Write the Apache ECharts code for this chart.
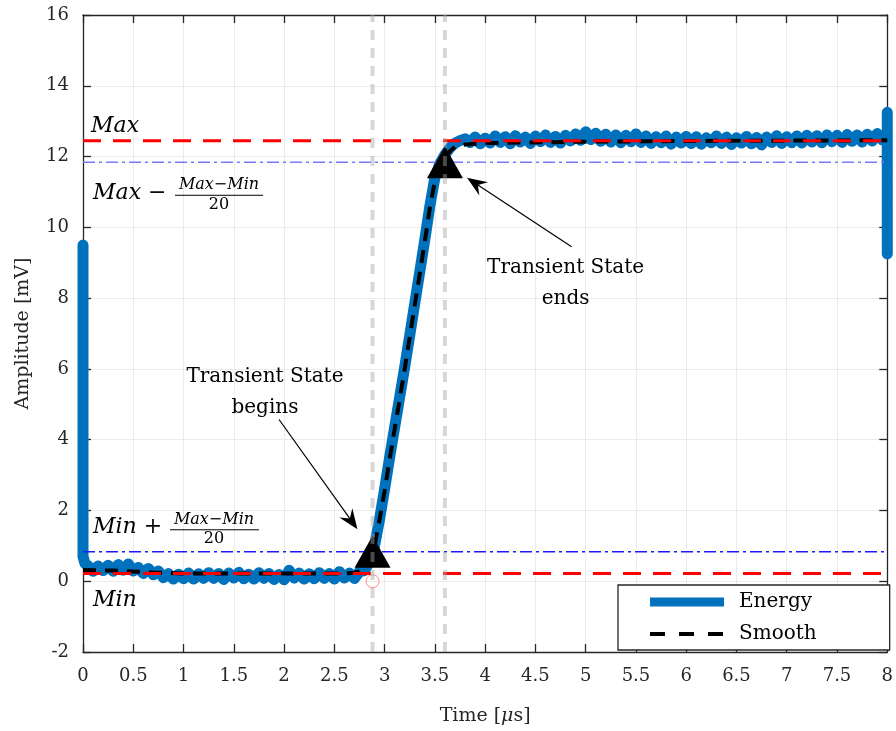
<!DOCTYPE html>
<html>
<head>
<meta charset="utf-8">
<script src="https://cdn.jsdelivr.net/npm/echarts@6/dist/echarts.min.js"></script>
</head>
<body style="margin:0">
<div id="container" style="width:896px;height:731px;"></div>
<script>
// measured signal [time us, amplitude mV]
var energy = [
  [0,9.5],[0,0.7],[0.02,0.5],[0.05,0.44],[0.1,0.28],[0.15,0.43],[0.2,0.3],[0.25,0.45],[0.3,0.28],[0.35,0.47],
  [0.4,0.31],[0.45,0.49],[0.5,0.29],[0.55,0.39],[0.6,0.22],[0.65,0.36],[0.7,0.18],[0.75,0.29],[0.8,0.1],[0.85,0.21],
  [0.9,0.06],[0.95,0.2],[1,0.07],[1.05,0.23],[1.1,0.06],[1.15,0.21],[1.2,0.08],[1.25,0.24],[1.3,0.08],[1.35,0.22],
  [1.4,0.05],[1.45,0.23],[1.5,0.09],[1.55,0.25],[1.6,0.07],[1.65,0.2],[1.7,0.06],[1.75,0.24],[1.8,0.08],[1.85,0.22],
  [1.9,0.05],[1.95,0.19],[2,0.04],[2.05,0.31],[2.1,0.09],[2.15,0.23],[2.2,0.06],[2.25,0.21],[2.3,0.07],[2.35,0.24],
  [2.4,0.08],[2.45,0.22],[2.5,0.06],[2.55,0.27],[2.6,0.09],[2.65,0.23],[2.7,0.08],[2.75,0.27],[2.8,0.3],[2.85,0.55],
  [2.9,1.0],[2.95,1.75],[3,2.6],[3.05,3.5],[3.1,4.35],[3.15,5.2],[3.2,6.05],[3.25,6.95],[3.3,7.85],[3.35,8.75],
  [3.4,9.65],[3.45,10.6],[3.5,11.4],[3.55,11.8],[3.6,12.05],[3.65,12.25],[3.7,12.38],[3.75,12.45],[3.8,12.5],
  [3.85,12.4],[3.9,12.55],[3.95,12.36],[4,12.52],[4.05,12.38],[4.1,12.58],[4.15,12.4],[4.2,12.56],[4.25,12.36],[4.3,12.59],
  [4.35,12.41],[4.4,12.55],[4.45,12.37],[4.5,12.58],[4.55,12.42],[4.6,12.61],[4.65,12.4],[4.7,12.57],[4.75,12.38],[4.8,12.6],
  [4.85,12.44],[4.9,12.64],[4.95,12.46],[5,12.7],[5.05,12.48],[5.1,12.66],[5.15,12.43],[5.2,12.63],[5.25,12.41],[5.3,12.61],
  [5.35,12.39],[5.4,12.6],[5.45,12.42],[5.5,12.64],[5.55,12.4],[5.6,12.58],[5.65,12.37],[5.7,12.56],[5.75,12.39],[5.8,12.58],
  [5.85,12.35],[5.9,12.55],[5.95,12.38],[6,12.57],[6.05,12.37],[6.1,12.56],[6.15,12.35],[6.2,12.53],[6.25,12.39],[6.3,12.58],
  [6.35,12.37],[6.4,12.55],[6.45,12.34],[6.5,12.53],[6.55,12.38],[6.6,12.57],[6.65,12.36],[6.7,12.54],[6.75,12.33],[6.8,12.55],
  [6.85,12.4],[6.9,12.59],[6.95,12.37],[7,12.56],[7.05,12.39],[7.1,12.58],[7.15,12.38],[7.2,12.6],[7.25,12.41],[7.3,12.59],
  [7.35,12.39],[7.4,12.61],[7.45,12.42],[7.5,12.6],[7.55,12.4],[7.6,12.62],[7.65,12.43],[7.7,12.61],[7.75,12.41],[7.8,12.63],
  [7.85,12.44],[7.9,12.65],[7.95,12.47],[8,12.55],[8,13.25],[8,9.25]
];
var smooth = [
  [0,0.32],[0.3,0.3],[0.7,0.25],[1,0.22],[2.6,0.22],[2.7,0.24],[2.75,0.28],[2.8,0.38],[2.85,0.6],[2.9,1.0],
  [2.95,1.75],[3,2.55],[3.05,3.45],[3.1,4.3],[3.15,5.15],[3.2,6.0],[3.25,6.9],[3.3,7.8],[3.35,8.7],[3.4,9.6],
  [3.45,10.55],[3.5,11.3],[3.55,11.7],[3.6,11.95],[3.65,12.15],[3.7,12.27],[3.8,12.34],[4,12.38],[5,12.42],[6,12.44],[8,12.46]
];
var maxLevel = 12.45;
var minLevel = 0.22;
var tBegin = 2.88;
var tEnd = 3.6;

var maxThr = maxLevel - (maxLevel - minLevel) / 20;
var minThr = minLevel + (maxLevel - minLevel) / 20;

var FONT = 'DejaVu Serif';
var AX = '#262626';

var chart = echarts.init(document.getElementById('container'));

function hline(y, color, width, type) {
  return {
    type: 'line', data: [[0, y], [8, y]], symbol: 'none', silent: true,
    lineStyle: { color: color, width: width, type: type }, z: 4
  };
}
function vline(x) {
  return {
    type: 'line', data: [[x, -2], [x, 16]], symbol: 'none', silent: true,
    lineStyle: { color: 'rgba(165,165,165,0.45)', width: 4, type: [10, 8] }, z: 8
  };
}

var axisCommon = {
  type: 'value',
  axisLine: { show: true, onZero: false, lineStyle: { color: AX, width: 1.3 } },
  axisTick: { show: true, inside: true, length: 8, lineStyle: { color: AX, width: 1.3 } }
};

var option = {
  animation: false,
  backgroundColor: '#fff',
  grid: { left: 83, right: 6, top: 15, bottom: 78 },
  xAxis: [
    Object.assign({}, axisCommon, {
      position: 'bottom', min: 0, max: 8, interval: 0.5,
      axisLabel: { fontFamily: FONT, fontSize: 18, color: AX, margin: 15 },
      splitLine: { show: true, lineStyle: { color: '#ebebeb', width: 1 } },
      name: 'Time [{i|μ}s]', nameLocation: 'middle', nameGap: 55,
      nameTextStyle: { fontFamily: FONT, fontSize: 19, color: AX,
        rich: { i: { fontFamily: FONT, fontStyle: 'italic', fontSize: 19, color: AX } } }
    }),
    Object.assign({}, axisCommon, {
      position: 'top', min: 0, max: 8, interval: 0.5,
      axisLabel: { show: false }, splitLine: { show: false }
    })
  ],
  yAxis: [
    Object.assign({}, axisCommon, {
      position: 'left', min: -2, max: 16, interval: 2,
      axisLabel: { fontFamily: FONT, fontSize: 18, color: AX, margin: 14 },
      splitLine: { show: true, lineStyle: { color: '#ebebeb', width: 1 } },
      name: 'Amplitude [mV]', nameLocation: 'middle', nameGap: 50,
      nameTextStyle: { fontFamily: FONT, fontSize: 19, color: AX }
    }),
    Object.assign({}, axisCommon, {
      position: 'right', min: -2, max: 16, interval: 2,
      axisLabel: { show: false }, splitLine: { show: false }
    })
  ],
  legend: {
    orient: 'vertical', left: 618, top: 585,
    padding: [7, 73, 6, 30], itemGap: 12, itemWidth: 74, itemHeight: 14,
    borderColor: AX, borderWidth: 1.3, backgroundColor: '#fff',
    textStyle: { fontFamily: FONT, fontSize: 20, color: '#000', padding: [0, 0, 0, 10] },
    data: [
      { name: 'Energy', icon: 'path://M0,0L74,0L74,9L0,9Z', itemStyle: { color: '#0072BD' } },
      { name: 'Smooth', lineStyle: { width: 4, type: [15, 14], color: '#000', cap: 'butt' },
        itemStyle: { color: 'rgba(0,0,0,0)', borderColor: 'rgba(0,0,0,0)', borderWidth: 0, opacity: 0 } }
    ]
  },
  series: [
    {
      name: 'Energy', type: 'line', data: energy, symbol: 'none', showSymbol: false, clip: false, z: 2,
      color: '#0072BD',
      lineStyle: { color: '#0072BD', width: 11, cap: 'round', join: 'round' }
    },
    {
      name: 'Smooth', type: 'line', data: smooth, symbol: 'none', showSymbol: false, z: 3,
      color: '#000',
      lineStyle: { color: '#000', width: 4, type: [13, 9] }
    },
    hline(maxLevel, '#ff0000', 3, [18, 12]),
    hline(minLevel, '#ff0000', 3, [18, 12]),
    hline(maxThr, '#7878ff', 1.5, [12, 4, 3, 4]),
    hline(minThr, '#1a1aff', 1.5, [12, 4, 3, 4]),
    {
      type: 'scatter', data: [[tBegin, minThr], [tEnd, maxThr]], symbol: 'triangle',
      symbolSize: [36, 32], itemStyle: { color: '#000', opacity: 1 }, z: 6, silent: true
    },
    {
      type: 'scatter', data: [[tBegin, 0]], symbol: 'circle', symbolSize: 13,
      itemStyle: { color: 'rgba(255,255,255,0)', borderColor: '#ff8a8a', borderWidth: 1, opacity: 1 }, z: 6, silent: true
    },
    vline(tBegin),
    vline(tEnd)
  ]
};
chart.setOption(option);

// annotations placed from data coordinates
function P(x, y) { return chart.convertToPixel({ xAxisIndex: 0, yAxisIndex: 0 }, [x, y]); }

function arrow(from, to) {
  var a = P(from[0], from[1]), b = P(to[0], to[1]);
  var dx = b[0] - a[0], dy = b[1] - a[1], L = Math.sqrt(dx * dx + dy * dy);
  var ux = dx / L, uy = dy / L, nx = -uy, ny = ux;
  var hl = 20, hw = 8, notch = 13;
  return [
    { type: 'line', shape: { x1: a[0], y1: a[1], x2: b[0] - ux * notch, y2: b[1] - uy * notch },
      style: { stroke: '#000', lineWidth: 1.2 }, z: 20 },
    { type: 'polygon', shape: { points: [
        [b[0], b[1]],
        [b[0] - ux * hl + nx * hw, b[1] - uy * hl + ny * hw],
        [b[0] - ux * notch, b[1] - uy * notch],
        [b[0] - ux * hl - nx * hw, b[1] - uy * hl - ny * hw]
      ] }, style: { fill: '#000' }, z: 20 }
  ];
}

function txt(x, y, s, font, align) {
  return { type: 'text', x: x, y: y, z: 20,
    style: { text: s, font: font, fill: '#000', align: align || 'left', verticalAlign: 'middle' } };
}

var x0 = P(0, 0)[0];
var yMax = P(0, maxLevel)[1], yMin = P(0, minLevel)[1];
var yMaxT = P(0, maxThr)[1], yMinT = P(0, minThr)[1];
var big = 'italic 22px "' + FONT + '"';
var small = 'italic 16px "' + FONT + '"';
var plain = '20px "' + FONT + '"';

var g = [];
g.push(txt(x0 + 8, yMax - 14, 'Max', big));
g.push(txt(x0 + 10, yMaxT + 31, 'Max \u2212', big));
g.push(txt(x0 + 136, yMaxT + 23, 'Max\u2212Min', small, 'center'));
g.push({ type: 'line', shape: { x1: x0 + 92, y1: yMaxT + 33, x2: x0 + 180, y2: yMaxT + 33 }, style: { stroke: '#000', lineWidth: 1 }, z: 20 });
g.push(txt(x0 + 136, yMaxT + 43, '20', '16px "' + FONT + '"', 'center'));

g.push(txt(x0 + 10, yMinT - 25, 'Min +', big));
g.push(txt(x0 + 131, yMinT - 32, 'Max\u2212Min', small, 'center'));
g.push({ type: 'line', shape: { x1: x0 + 87, y1: yMinT - 22, x2: x0 + 176, y2: yMinT - 22 }, style: { stroke: '#000', lineWidth: 1 }, z: 20 });
g.push(txt(x0 + 131, yMinT - 13, '20', '16px "' + FONT + '"', 'center'));
g.push(txt(x0 + 10, yMin + 27, 'Min', big));

var pb = P(1.81, 5.35), pe = P(4.80, 8.42);
g.push({ type: 'text', x: pb[0], y: pb[1], z: 20, style: { text: 'Transient State\nbegins', font: plain, fill: '#000', align: 'center', verticalAlign: 'middle', lineHeight: 31 } });
g.push({ type: 'text', x: pe[0], y: pe[1], z: 20, style: { text: 'Transient State\nends', font: plain, fill: '#000', align: 'center', verticalAlign: 'middle', lineHeight: 31 } });
g = g.concat(arrow([1.95, 4.57], [2.73, 1.47]));
g = g.concat(arrow([4.86, 9.45], [3.82, 11.40]));

chart.setOption({ graphic: g });
</script>
</body>
</html>
